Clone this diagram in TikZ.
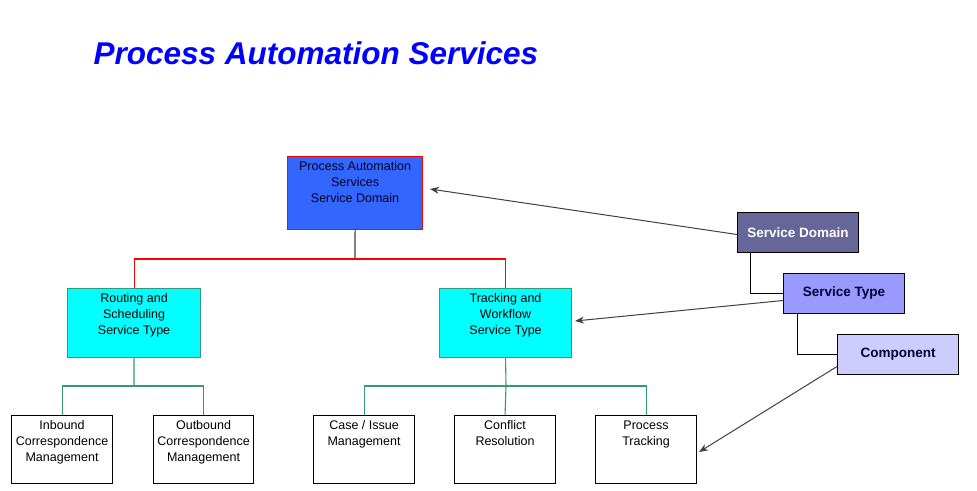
\documentclass[tikz,border=0pt]{standalone}
\usepackage{fontspec}
\setmainfont{Liberation Sans}
\usetikzlibrary{arrows.meta}
\definecolor{domblue}{HTML}{3366FF}
\definecolor{teal2}{HTML}{339977}
\definecolor{aqua}{HTML}{00FFFF}
\definecolor{legA}{HTML}{666699}
\definecolor{legB}{HTML}{9999FF}
\definecolor{legC}{HTML}{CCCCFF}
\definecolor{arrowgray}{HTML}{404040}
\definecolor{pured}{HTML}{FF0000}
\newcommand{\boxtext}[3]{\parbox[t][#2pt][t]{#1pt}{\centering\fontsize{12.5}{16}\selectfont\vspace*{5pt}#3}}
\tikzset{
  box/.style={draw, rectangle, inner sep=0pt, anchor=north west, line width=1.1pt},
  domainbox/.style={box, draw=pured, fill=domblue, text=black!85!blue},
  typebox/.style={box, draw=teal2, fill=aqua},
  compbox/.style={box, draw=black, fill=white},
  legbox/.style={draw=black, rectangle, anchor=north west, minimum width=121pt, minimum height=40pt, inner sep=0pt, font=\fontsize{13.5}{16}\selectfont\bfseries, line width=1pt},
  redline/.style={draw=pured, line width=1.1pt},
  grnline/.style={draw=teal2, line width=1.1pt},
  grayline/.style={draw=arrowgray, line width=1.1pt},
  pointer/.style={draw=arrowgray, line width=1pt, -{Stealth[length=9pt,width=7pt]}},
}
\begin{document}
\begin{tikzpicture}[x=1pt,y=-1pt]
\useasboundingbox (0,0) rectangle (977,490);
\fill[white] (0,0) rectangle (977,490);

\node[anchor=west, text=blue, font=\fontsize{31.5}{36}\selectfont\bfseries\itshape] (title) at (90,53) {Process Automation Services};

\node[domainbox] (dom) at (287,156) {\boxtext{135}{73}{Process Automation\\Services\\Service Domain}};

\node[typebox] (rout) at (67,288) {\boxtext{133}{69}{Routing and\\Scheduling\\Service Type}};
\node[typebox] (track) at (439,288) {\boxtext{132}{69}{Tracking and\\Workflow\\Service Type}};

\node[compbox] (inb) at (11,415) {\boxtext{101}{68}{Inbound\\Correspondence\\Management}};
\node[compbox] (outb) at (153,415) {\boxtext{100}{68}{Outbound\\Correspondence\\Management}};
\node[compbox] (case) at (313,415) {\boxtext{101}{68}{Case / Issue\\Management}};
\node[compbox] (confl) at (454,415) {\boxtext{101}{68}{Conflict\\Resolution}};
\node[compbox] (proc) at (595,415) {\boxtext{101}{68}{Process\\Tracking}};

\node[legbox, fill=legA, text=white] (legdom) at (737,212) {Service Domain};
\node[legbox, fill=legB, text=black!80!blue] (legtype) at (783,273) {Service Type};
\node[legbox, fill=legC, text=black!80!blue] (legcomp) at (837,334) {Component};

% domain tree
\coordinate (busA) at (355,259);
\draw[grayline] (dom.south) -- (busA);
\draw[redline] (rout.north) |- (busA) -| (track.north);

% routing subtree
\coordinate (busB) at (134,386);
\draw[grnline] (rout.south) -- (busB);
\draw[grnline] (inb.north) |- (busB) -| (outb.north);

% tracking subtree
\coordinate (busC) at (506,386);
\draw[grnline] (track.south) -- (busC);
\draw[grnline] (case.north) |- (busC) -| (proc.north);
\draw[grnline] (confl.north) -- (busC);

% legend links
\draw[draw=black, line width=1pt] ([xshift=13pt]legdom.south west) |- (legtype.west);
\draw[draw=black, line width=1pt] ([xshift=14pt]legtype.south west) |- (legcomp.west);

% pointers
\coordinate (pA) at (430,189);
\coordinate (pB) at (575,321);
\coordinate (pC) at (699,452);
\draw[pointer] ([yshift=-2pt]legdom.west) -- (pA);
\draw[pointer] ([yshift=-7pt]legtype.west) -- (pB);
\draw[pointer] ([yshift=-12pt]legcomp.west) -- (pC);
\end{tikzpicture}
\end{document}
